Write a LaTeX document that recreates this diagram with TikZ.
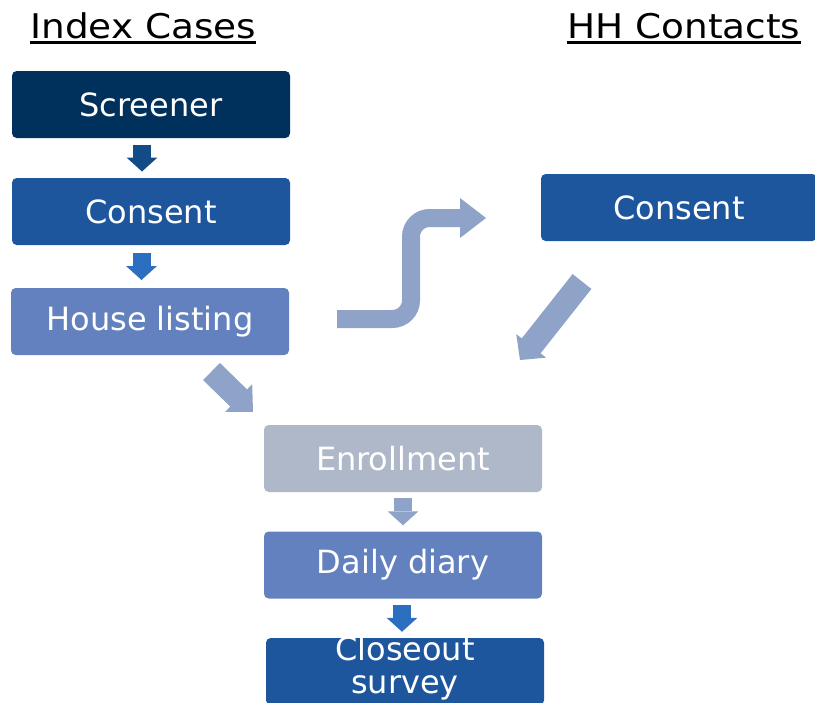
\documentclass[tikz,border=0pt]{standalone}
\usepackage{fontspec}
\setmainfont{DejaVu Sans}[FakeStretch=1.1]
\newfontfamily\boxfont{DejaVu Sans}
\usetikzlibrary{calc}
\definecolor{navy}{RGB}{0,48,92}
\definecolor{arrA}{RGB}{17,76,135}
\definecolor{midblue}{RGB}{30,86,158}
\definecolor{arrB}{RGB}{44,110,192}
\definecolor{softblue}{RGB}{99,129,191}
\definecolor{lightarr}{RGB}{143,162,199}
\definecolor{greyblue}{RGB}{175,184,200}
\tikzset{
  box/.style={rounded corners=3.5pt, text=white, font=\boxfont\fontsize{24}{25.5}\selectfont,
    minimum width=208.5pt, minimum height=50.25pt, inner sep=0pt, align=center},
  boxtext/.style={text=white, font=\boxfont\fontsize{24}{24.5}\selectfont, inner sep=0pt, align=center},
  title/.style={font=\fontsize{25.5}{30}\selectfont, anchor=base west, inner sep=0pt},
  uline/.style={line width=1.6pt, black},
  pics/darrow/.style={code={
    \fill[#1] (-6.75pt,10.125pt) rectangle (6.75pt,0.375pt);
    \fill[#1] (-11.6pt,0.375pt) -- (11.6pt,0.375pt) -- (0pt,-10.125pt) -- cycle;
  }}
}
\newcommand\blockarrow[6]{% tail, tip, halfshaft, headlen, halfhead, color
  \coordinate (ba-h) at ($(#2)!#4!(#1)$);
  \fill[#6] ($(#1)!#3!90:(#2)$) -- ($(ba-h)!#3!90:(#2)$) -- ($(ba-h)!#5!90:(#2)$)
    -- (#2) -- ($(ba-h)!#5!-90:(#2)$) -- ($(ba-h)!#3!-90:(#2)$) -- ($(#1)!#3!-90:(#2)$) -- cycle;
}
\begin{document}
\begin{tikzpicture}[x=0.75pt,y=-0.75pt]
\path[use as bounding box] (0,0) rectangle (815,703);
\clip (0,0) rectangle (815,703);

% titles
\node[title] (t1) at (30,38) {Index Cases};
\draw[uline] ($(t1.base west)+(0,4.5)$) -- ($(t1.base east)+(0,4.5)$);
\node[title] (t2) at (567,38) {HH Contacts};
\draw[uline] ($(t2.base west)+(0,4.5)$) -- ($(t2.base east)+(0,4.5)$);

% index case boxes
\node[box, fill=navy] (scr) at (151,104.5) {Screener};
\node[box, fill=midblue] (con1) at (151,211.5) {Consent};
\node[box, fill=softblue] (house) at (150,321.5) {House listing};
\node[box, fill=greyblue] (enr) at (403,458.5) {Enrollment};
\node[box, fill=softblue] (diary) at (403,565) {Daily diary};
\node[box, fill=midblue] (close) at (405,671.5) {};
\node[boxtext] (closetxt) at ($(close.center)+(0,-3.5)$) {Closeout\\survey};
\node[box, fill=midblue, minimum width=207pt] (con2) at (679,207.5) {Consent};

% small down arrows
\pic at ($(scr.south)!0.5!(con1.north)+(-9,0)$) {darrow=arrA};
\pic at ($(con1.south)!0.5!(house.north)+(-9,0)$) {darrow=arrB};
\pic at ($(enr.south)!0.5!(diary.north)$) {darrow=lightarr};
\pic at ($(diary.south)!0.5!(close.north)+(-2,0)$) {darrow=arrB};

% S-shaped arrow from house listing to HH consent
\coordinate (s0) at (337,319);
\coordinate (s1) at (461,218);
\draw[lightarr, line width=13.5pt, rounded corners=14pt] (s0) -- (411,319) -- (411,218) -- (s1);
\fill[lightarr] (460,198) -- (486,218) -- (460,238) -- cycle;

% diagonal block arrows
\coordinate (d1t) at (582,281.5);
\coordinate (d1h) at (520,360);
\blockarrow{d1t}{d1h}{9pt}{13.5pt}{14.25pt}{lightarr}
\coordinate (d2t) at (211.5,371.5);
\coordinate (d2h) at (253,412);
\blockarrow{d2t}{d2h}{9pt}{15pt}{14.5pt}{lightarr}
\end{tikzpicture}
\end{document}
